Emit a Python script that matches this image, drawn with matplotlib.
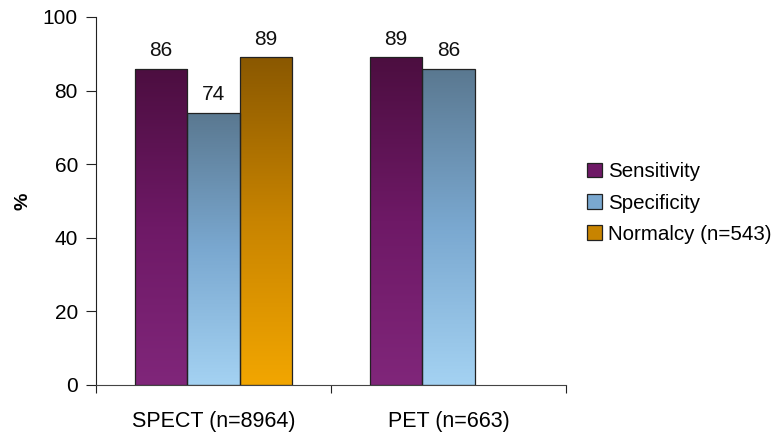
import matplotlib
matplotlib.use("Agg")
import matplotlib.pyplot as plt
import numpy as np
from matplotlib.colors import LinearSegmentedColormap
from matplotlib.patches import Rectangle

plt.rcParams['font.family'] = ['Liberation Sans', 'DejaVu Sans']

categories = ["SPECT (n=8964)", "PET (n=663)"]
series = ["Sensitivity", "Specificity", "Normalcy (n=543)"]
sensitivity = [86, 89]
specificity = [74, 86]
normalcy = [89, None]
yticks = [0, 20, 40, 60, 80, 100]

# gradient colours (top -> bottom)
grads = [
    ["#4c0e40", "#6e1966", "#80267a"],
    ["#5a7890", "#7aa8d0", "#a4d2f2"],
    ["#8a5800", "#c88400", "#f2a600"],
]

fig = plt.figure(figsize=(7.74, 4.32), dpi=100)
ax = fig.add_axes([96/774, 47/432, 470/774, 368/432])

values = [sensitivity, specificity, normalcy]
bw = 0.2235
x = np.arange(len(categories)) + 0.5
handles = []
for si, (name, vals) in enumerate(zip(series, values)):
    cmap = LinearSegmentedColormap.from_list(name, grads[si][::-1])
    for ci, v in enumerate(vals):
        if v is None:
            continue
        left = x[ci] + (si - 1.5) * bw
        rect = Rectangle((left, 0), bw, v, facecolor="none", edgecolor="#222222", linewidth=0.9, zorder=3)
        ax.add_patch(rect)
        grad = np.linspace(0, 1, 256).reshape(-1, 1)
        im = ax.imshow(grad, cmap=cmap, origin="lower", aspect="auto",
                       extent=(left, left + bw, 0, v), zorder=2, interpolation="bilinear")
        im.set_clip_path(rect)
        ax.text(left + bw / 2, v + 2.3, str(v), ha="center", va="bottom", fontsize=15, color="#111111")
    handles.append(Rectangle((0, 0), 1, 1, facecolor=grads[si][1], edgecolor="#222222", linewidth=0.9))

ax.set_xlim(0, len(categories))
ax.set_ylim(0, 100)
ax.set_yticks(yticks)
ax.set_yticklabels([str(t) for t in yticks], fontsize=15)
ax.set_xticks([0, 1, 2])
ax.set_xticklabels([])
ax.set_xticks(x, minor=True)
ax.set_xticklabels(categories, minor=True, fontsize=15.5)
ax.tick_params(axis="x", which="minor", length=0, pad=19)
ax.tick_params(axis="x", which="major", length=6, direction="out", color="#222222")
ax.tick_params(axis="y", length=7, direction="out", color="#222222", pad=6)
for s in ["top", "right"]:
    ax.spines[s].set_visible(False)
ax.spines["left"].set_color("#222222")
ax.spines["bottom"].set_color("#444444")
ax.set_ylabel("%", fontsize=14, fontweight="bold", labelpad=8)

fig.legend(handles, series, loc="center left", bbox_to_anchor=(587/774, 1 - 203/432),
           frameon=False, fontsize=14.8, handlelength=0.72, handleheight=0.72,
           handletextpad=0.3, labelspacing=0.6, borderpad=0, borderaxespad=0)

fig.savefig("out.png", dpi=100)
